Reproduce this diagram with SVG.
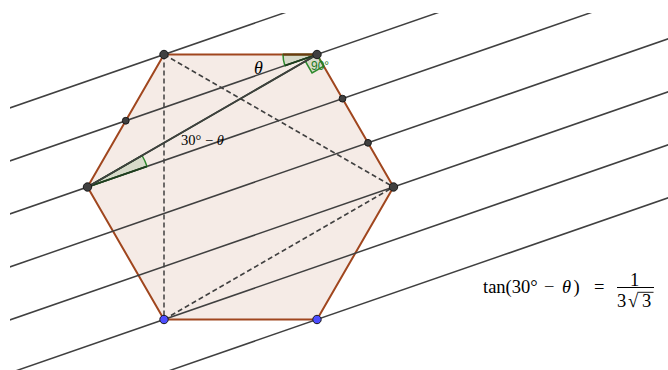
<svg xmlns="http://www.w3.org/2000/svg" width="668" height="370" viewBox="0 0 668 370">
<style>
.ln{stroke:#404040;stroke-width:1.5;fill:none}
.dash{stroke:#404040;stroke-width:1.5;stroke-dasharray:5,3;fill:none}
.pt{fill:#404040;stroke:#1a1a1a;stroke-width:1}
.bpt{fill:#4d4dff;stroke:#1a1a1a;stroke-width:1}
.ang{fill:#006400;fill-opacity:0.12;stroke:#2e8b2e;stroke-width:1.5}
.m{font-family:"Liberation Serif","DejaVu Serif",serif;fill:#000}
</style>
<defs>
<clipPath id="view"><rect x="10" y="13" width="658" height="357"/></clipPath>
</defs>
<rect width="668" height="370" fill="#fff"/>
<g id="hexagon">
<polygon points="164,54.5 317,54.5 393.5,187 317,319.5 164,319.5 87.5,187" fill="#f5ebe6" stroke="#a0461e" stroke-width="2" stroke-linejoin="round"/>
</g>
<g id="connectors">
<g clip-path="url(#view)">
<line class="ln" x1="0" y1="111.31" x2="700" y2="-131.18"/>
<line class="ln" x1="0" y1="164.31" x2="700" y2="-78.18"/>
<line class="ln" x1="0" y1="217.31" x2="700" y2="-25.18"/>
<line class="ln" x1="0" y1="270.31" x2="700" y2="27.82"/>
<line class="ln" x1="0" y1="323.31" x2="700" y2="80.82"/>
<line class="ln" x1="0" y1="376.31" x2="700" y2="133.82"/>
<line class="ln" x1="0" y1="429.31" x2="700" y2="186.82"/>
</g>
<line class="dash" x1="164" y1="54.5" x2="164" y2="319.5"/>
<line class="dash" x1="164" y1="54.5" x2="393.5" y2="187"/>
<line class="dash" x1="164" y1="319.5" x2="393.5" y2="187"/>
</g>
<g id="angles">
<path class="ang" d="M87.5,187 L147.03,166.38 A63,63 0 0 0 142.06,155.5 Z"/>
<path class="ang" d="M317,54.5 L283,54.5 A34,34 0 0 0 284.88,65.63 Z"/>
<polygon class="ang" points="317,54.5 305.31,61.25 312.06,72.94 323.75,66.19"/>
<line stroke="#1f3a1f" stroke-width="1.8" x1="87.5" y1="187" x2="317" y2="54.5"/>
<line stroke="#1f3a1f" stroke-width="1.8" x1="87.5" y1="187" x2="147.03" y2="166.38"/>
<line stroke="#1f3a1f" stroke-width="1.8" x1="317" y1="54.5" x2="284.88" y2="65.63"/>
<line stroke="#6b3a10" stroke-width="2" x1="317" y1="54.5" x2="283" y2="54.5"/>
<line class="ln" x1="87.5" y1="187" x2="317" y2="54.5"/>
</g>
<g id="points">
<circle class="pt" cx="164" cy="54.5" r="4.2"/>
<circle class="pt" cx="317" cy="54.5" r="4.2"/>
<circle class="pt" cx="393.5" cy="187" r="4.2"/>
<circle class="pt" cx="87.5" cy="187" r="4.2"/>
<circle class="pt" cx="125.75" cy="120.75" r="3.4"/>
<circle class="pt" cx="342.5" cy="98.67" r="3.4"/>
<circle class="pt" cx="368" cy="142.83" r="3.4"/>
<circle class="bpt" cx="164" cy="319.5" r="4.2"/>
<circle class="bpt" cx="317" cy="319.5" r="4.2"/>
</g>
<g id="labels">
<text class="m" x="254" y="74" font-size="18" font-style="italic">θ</text>
<text x="311" y="69.5" font-size="12" font-family="Liberation Sans, sans-serif" fill="#1e7a1e">90°</text>
<text class="m" x="181" y="145" font-size="14.5">30° − <tspan font-style="italic">θ</tspan></text>
<text class="m" y="293.3" font-size="18.5"><tspan x="483">tan(30°</tspan><tspan x="544">−</tspan><tspan x="562" font-style="italic">θ</tspan><tspan x="573.5">)</tspan><tspan x="594">=</tspan></text>
<text class="m" x="634.5" y="286" font-size="18.5" text-anchor="middle">1</text>
<line x1="617" y1="287.5" x2="654" y2="287.5" stroke="#000" stroke-width="1"/>
<text class="m" y="306.5" font-size="18.5"><tspan x="617">3</tspan><tspan x="628">√</tspan><tspan x="642">3</tspan></text>
<line x1="637.5" y1="292.3" x2="653.5" y2="292.3" stroke="#000" stroke-width="0.9"/>
</g>
</svg>
